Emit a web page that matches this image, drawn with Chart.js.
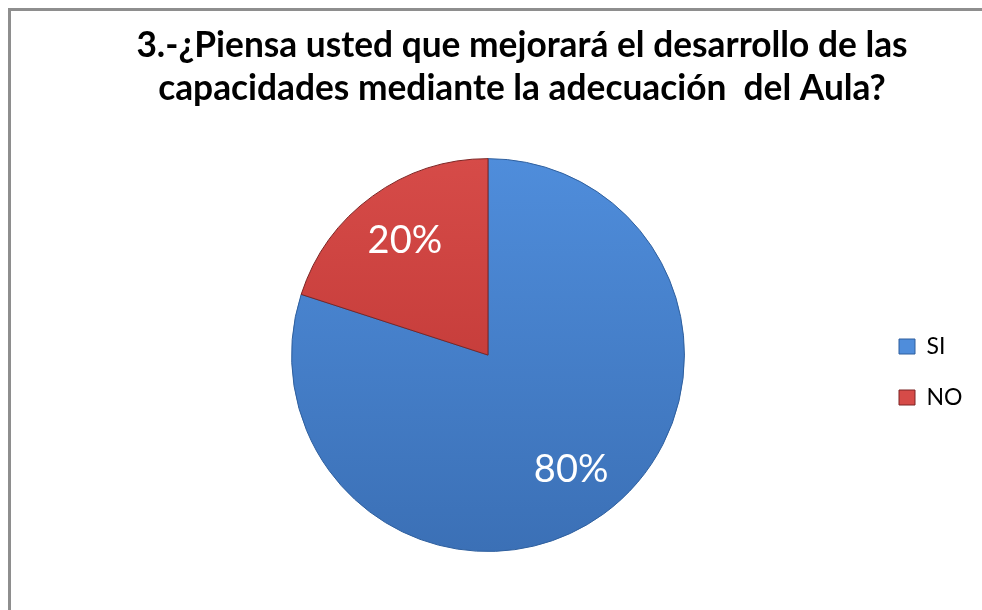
<!DOCTYPE html>
<html>
<head>
<meta charset="utf-8">
<script src="https://cdn.jsdelivr.net/npm/chart.js@4.4.1/dist/chart.umd.min.js"></script>
<style>
    html, body { margin: 0; padding: 0; background: #fff; overflow: hidden; }
    #frame { position: absolute; left: 8px; top: 8px; width: 1100px; height: 700px;
             border: 3px solid #8e8e8e; box-sizing: border-box; }
    #wrap { position: absolute; left: 0; top: 0; width: 982px; height: 610px; }
</style>
</head>
<body>
<div id="frame"></div>
<div id="wrap"><canvas id="pieChart"></canvas></div>
<script>
// datos de la encuesta
const titleLines = ['3.-¿Piensa usted que mejorará el desarrollo de las', 'capacidades mediante la adecuación  del Aula?'];
const categories = ['SI', 'NO'];
const percentages = [80, 20];
const sliceTop = ['#4f8ddb', '#d64b48'];
const sliceBottom = ['#3b70b6', '#b8312f'];
const edgeColors = ['#2e5f9e', '#7c2524'];

// etiquetas de porcentaje dentro de cada sector
const pctLabels = {
    id: 'pctLabels',
    afterDatasetsDraw(chart) {
        const ctx = chart.ctx;
        const meta = chart.getDatasetMeta(0);
        ctx.save();
        ctx.fillStyle = '#ffffff';
        ctx.font = '38px Lato';
        ctx.textAlign = 'center';
        ctx.textBaseline = 'middle';
        meta.data.forEach((arc, i) => {
            const p = arc.getProps(['x', 'y', 'startAngle', 'endAngle', 'outerRadius'], true);
            const mid = (p.startAngle + p.endAngle) / 2;
            const r = p.outerRadius * 0.72;
            ctx.fillText(percentages[i] + '%', p.x + Math.cos(mid) * r, p.y + Math.sin(mid) * r);
        });
        ctx.restore();
    }
};

// ancho fijo de la leyenda para que el titulo quede centrado como en el original
const legendWidth = {
    id: 'legendWidth',
    beforeLayout(chart) {
        const legend = chart.legend;
        if (!legend || legend._fixedFit) return;
        const fit = legend.fit;
        legend.fit = function() { fit.call(this); this.width = 68; };
        legend._fixedFit = true;
    },
    afterLayout(chart) {
        // que el texto no se recorte
        if (chart.legend) {
            chart.legend.right = chart.width;
            chart.legend.width = chart.width - chart.legend.left;
        }
    }
};

function sliceFill(context) {
    const area = context.chart.chartArea;
    if (!area) return sliceTop[context.dataIndex];
    const g = context.chart.ctx.createLinearGradient(0, area.top, 0, area.bottom);
    g.addColorStop(0, sliceTop[context.dataIndex]);
    g.addColorStop(1, sliceBottom[context.dataIndex]);
    return g;
}

const ctx = document.getElementById('pieChart').getContext('2d');
new Chart(ctx, {
    type: 'pie',
    data: {
        labels: categories,
        datasets: [{
            data: percentages,
            backgroundColor: sliceFill,
            borderColor: edgeColors,
            borderWidth: 1
        }]
    },
    options: {
        responsive: true,
        maintainAspectRatio: false,
        animation: false,
        layout: { padding: { left: 105, right: 43, top: 0, bottom: 58 } },
        plugins: {
            tooltip: { enabled: false },
            title: {
                display: true,
                text: titleLines,
                color: '#000',
                font: { family: 'Lato', size: 35.3, weight: 'bold', lineHeight: 1.22 },
                padding: { top: 24, bottom: 48 }
            },
            legend: {
                position: 'right',
                title: { display: true, text: ' ', font: { size: 10 }, padding: 90 },
                labels: {
                    color: '#000',
                    font: { family: 'Lato', size: 23 },
                    boxWidth: 16,
                    boxHeight: 15,
                    padding: 28,
                    generateLabels(chart) {
                        return categories.map((c, i) => ({
                            text: c,
                            fillStyle: sliceTop[i],
                            strokeStyle: edgeColors[i],
                            lineWidth: 1,
                            fontColor: '#000',
                            index: i
                        }));
                    }
                }
            }
        }
    },
    plugins: [pctLabels, legendWidth]
});
</script>
</body>
</html>
